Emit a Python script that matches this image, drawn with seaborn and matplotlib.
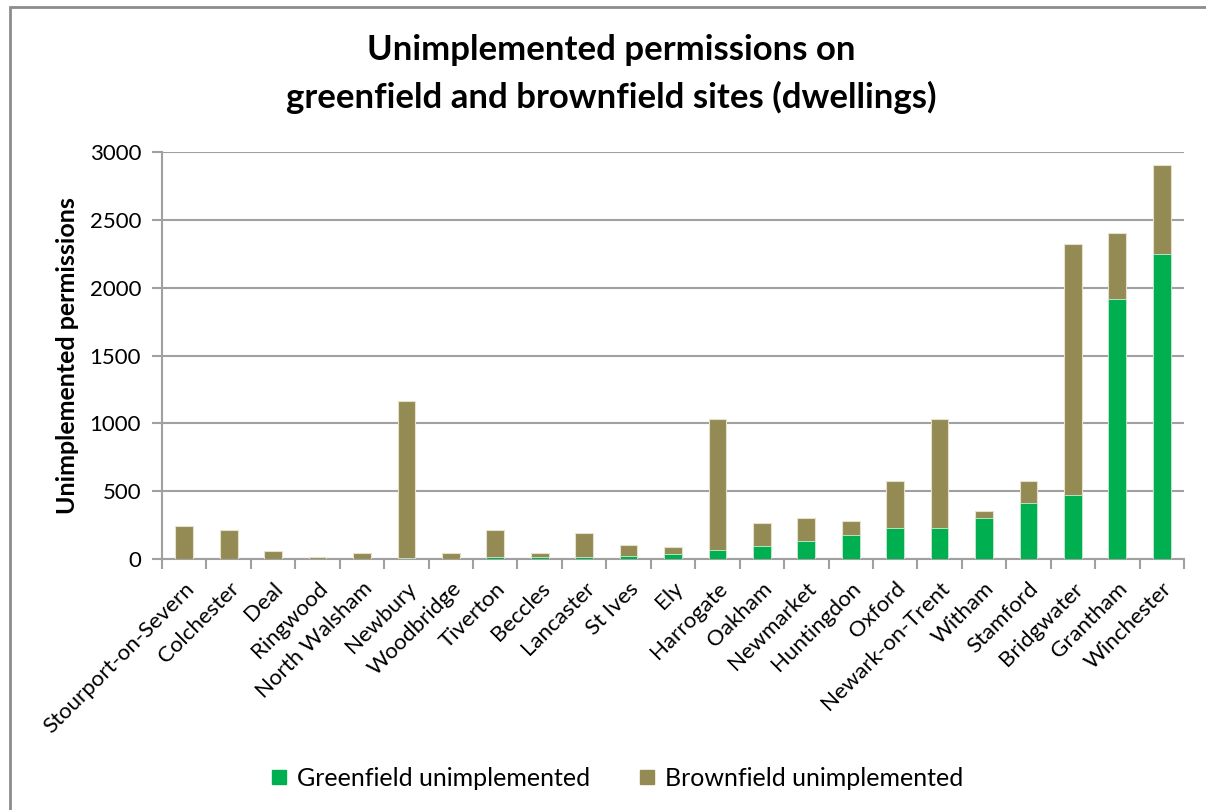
import matplotlib
matplotlib.use("Agg")
import matplotlib.pyplot as plt
import seaborn as sns
import numpy as np
from matplotlib.patches import Rectangle
from matplotlib.lines import Line2D

towns = ["Stourport-on-Severn", "Colchester", "Deal", "Ringwood", "North Walsham",
         "Newbury", "Woodbridge", "Tiverton", "Beccles", "Lancaster", "St Ives", "Ely",
         "Harrogate", "Oakham", "Newmarket", "Huntingdon", "Oxford", "Newark-on-Trent",
         "Witham", "Stamford", "Bridgwater", "Grantham", "Winchester"]
greenfield = [0, 0, 0, 0, 0, 5, 3, 17, 15, 17, 20, 37, 66, 93, 133, 174, 226, 227,
              303, 414, 473, 1914, 2246]
brownfield = [243, 215, 61, 17, 47, 1160, 39, 198, 32, 172, 83, 49, 966, 173, 166,
              103, 348, 803, 54, 160, 1850, 492, 660]
yticks = [0, 500, 1000, 1500, 2000, 2500, 3000]
title_lines = ["Unimplemented permissions on", "greenfield and brownfield sites (dwellings)"]

GREEN = "#00B050"
BROWN = "#948A54"
GRID = "#A0A0A0"

sns.set_theme(style="white")
plt.rcParams["font.family"] = ["Lato", "DejaVu Sans"]
plt.rcParams["text.color"] = "black"
plt.rcParams["axes.labelcolor"] = "black"
plt.rcParams["xtick.color"] = "black"
plt.rcParams["ytick.color"] = "black"

fig = plt.figure(figsize=(12.06, 8.10), dpi=100)
ax = fig.add_axes([162 / 1206, 1 - 559 / 810, (1184 - 162) / 1206, (559 - 152) / 810])

totals = [g + b for g, b in zip(greenfield, brownfield)]
sns.barplot(x=towns, y=totals, color=BROWN, width=0.4, saturation=1,
            edgecolor="#E6E1CC", linewidth=0.8, ax=ax, zorder=3)
sns.barplot(x=towns, y=greenfield, color=GREEN, width=0.4, saturation=1,
            edgecolor="#CDEBD5", linewidth=0.6, ax=ax, zorder=4)

ax.set_ylim(0, 3000)
ax.set_xlim(-0.5, len(towns) - 0.5)
ax.set_yticks(yticks)
ax.set_yticklabels([str(v) for v in yticks], fontsize=16, color="#000000")
ax.yaxis.grid(True, color=GRID, linewidth=1.5, zorder=0)
ax.set_axisbelow(True)

ax.set_xticks(np.arange(len(towns)))
ax.set_xticklabels(towns, rotation=45, ha="right", rotation_mode="anchor",
                   fontsize=16, color="#000000")
ax.tick_params(axis="x", which="major", length=0, pad=14)
ax.set_xticks(np.arange(-0.5, len(towns), 1.0), minor=True)
ax.tick_params(axis="x", which="minor", length=7, width=1.5, color=GRID, direction="out", bottom=True)
ax.tick_params(axis="y", length=7, width=1.5, color=GRID, direction="out", left=True, pad=8)

for s in ["top", "right"]:
    ax.spines[s].set_visible(False)
for s in ["left", "bottom"]:
    ax.spines[s].set_color(GRID)
    ax.spines[s].set_linewidth(1.5)

ax.set_xlabel("")
ax.set_ylabel("Unimplemented permissions", fontsize=18, fontweight="bold", labelpad=8)

fig.text(0.507, 1 - 50 / 810, title_lines[0], ha="center", va="center",
         fontsize=25, fontweight="bold", color="black")
fig.text(0.507, 1 - 97 / 810, title_lines[1], ha="center", va="center",
         fontsize=25, fontweight="bold", color="black")

handles = [Line2D([0], [0], marker="s", linestyle="none", markersize=10,
                  markerfacecolor=GREEN, markeredgecolor=GREEN),
           Line2D([0], [0], marker="s", linestyle="none", markersize=10,
                  markerfacecolor=BROWN, markeredgecolor=BROWN)]
fig.legend(handles, ["Greenfield unimplemented", "Brownfield unimplemented"],
           loc="center", bbox_to_anchor=(0.512, 1 - 778 / 810), ncol=2, frameon=False,
           fontsize=18, handlelength=0.6, handletextpad=0.4, columnspacing=2.0)

fig.patches.append(Rectangle((10 / 1206, -0.01), 1.2, 1 - 7 / 810 + 0.01,
                             transform=fig.transFigure, fill=False,
                             edgecolor="#8C8C8C", linewidth=2))

fig.savefig("out.png", dpi=100)
